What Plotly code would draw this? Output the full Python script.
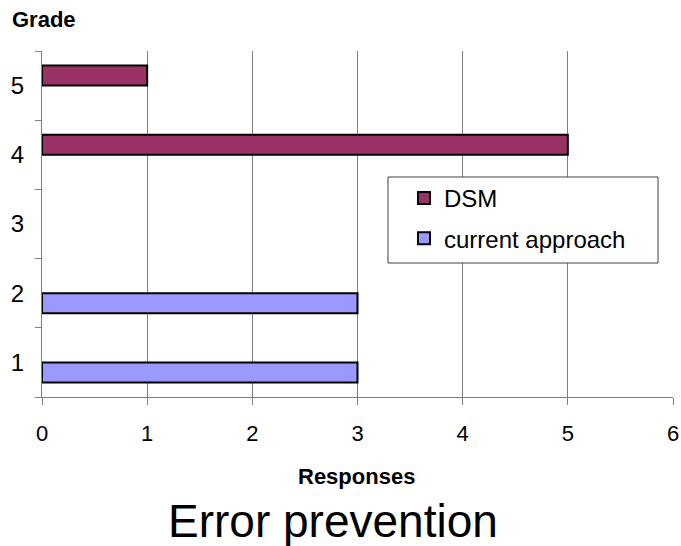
import plotly.graph_objects as go

grades = ["1", "2", "3", "4", "5"]
dsm = [None, None, None, 5, 1]
current_approach = [3, 3, None, None, None]

FONT = "Liberation Sans, Arial, sans-serif"

# pixel geometry of the plotting area
W, H = 681, 546
L, R, T, B = 42, 8, 51, 149
plot_w = W - L - R
plot_h = H - T - B


def px(x):
    return (x - L) / plot_w


def py(y):
    return (H - B - y) / plot_h


fig = go.Figure()
fig.add_trace(go.Bar(
    y=grades, x=current_approach, orientation="h", name="current approach",
    marker=dict(color="#9999FF", line=dict(color="black", width=2)),
    legendgroup="b", legendrank=2,
))
fig.add_trace(go.Bar(
    y=grades, x=dsm, orientation="h", name="DSM",
    marker=dict(color="#993366", line=dict(color="black", width=2)),
    legendgroup="a", legendrank=1,
))

fig.update_layout(
    width=W, height=H,
    margin=dict(l=L, r=R, t=T, b=B, autoexpand=False),
    paper_bgcolor="white", plot_bgcolor="white",
    barmode="group", bargap=0.42, bargroupgap=0,
    font=dict(family=FONT, color="black", size=20),
    showlegend=True,
    legend=dict(
        x=px(388), y=py(176), xanchor="left", yanchor="top",
        bgcolor="rgba(0,0,0,0)", borderwidth=0,
        font=dict(size=24, family=FONT),
        traceorder="grouped", tracegroupgap=6,
        indentation=16,
    ),
    # legend frame, wider than the entries themselves
    shapes=[dict(
        type="rect", xref="paper", yref="paper",
        x0=px(388), x1=px(658), y0=py(263), y1=py(177),
        fillcolor="white", line=dict(color="#404040", width=1), layer="above",
    )],
    xaxis=dict(
        range=[0, 6], dtick=1, showgrid=True, gridcolor="#808080", gridwidth=1,
        showline=True, linecolor="#808080", linewidth=1,
        ticks="outside", ticklen=7, tickcolor="#808080",
        tickfont=dict(size=22), ticklabelstandoff=10, zeroline=False,
        automargin=False,
    ),
    yaxis=dict(
        type="category", categoryorder="array", categoryarray=grades,
        tickson="boundaries", showgrid=False,
        showline=True, linecolor="#808080", linewidth=1,
        ticks="outside", ticklen=6, tickcolor="#808080",
        tickfont=dict(size=24), ticklabelstandoff=12, automargin=False,
    ),
    annotations=[
        dict(text="<b>Grade</b>", x=px(10), y=py(19), xref="paper", yref="paper",
             xanchor="left", yanchor="middle", showarrow=False,
             font=dict(size=22)),
        dict(text="<b>Responses</b>", x=px(356), y=py(476), xref="paper", yref="paper",
             xanchor="center", yanchor="middle", showarrow=False,
             font=dict(size=22)),
        dict(text="Error prevention", x=px(333), y=py(521), xref="paper", yref="paper",
             xanchor="center", yanchor="middle", showarrow=False,
             font=dict(size=46)),
    ],
)

fig.write_html("out.html")
